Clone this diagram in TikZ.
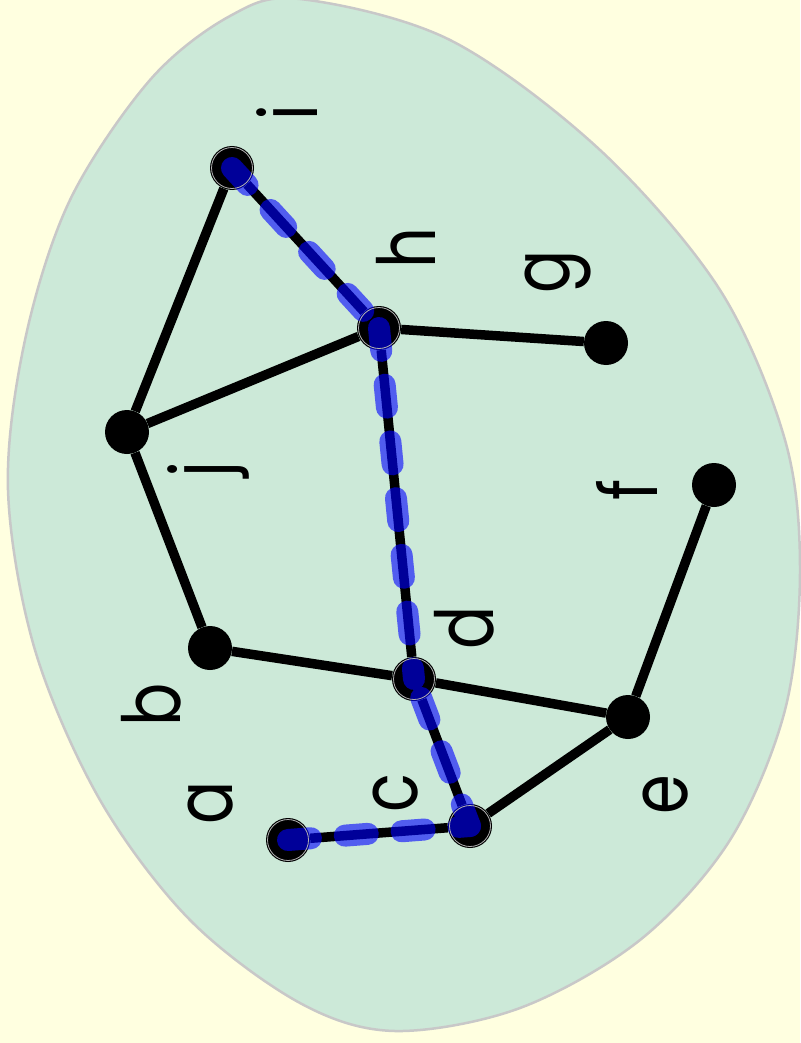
\documentclass[tikz,border=0pt]{standalone}
\usepackage{fontspec}
\setmainfont{Poppins}[FakeStretch=0.8]
\begin{document}
\begin{tikzpicture}[x=1pt,y=-1pt,
  vtx/.style={circle,fill=black,minimum size=44pt,inner sep=0pt},
  edge/.style={line width=9.5pt,black},
  hl/.style={line width=22pt,blue,line cap=round,dash pattern=on 23pt off 34pt},
  ring/.style={draw=gray!60,line width=0.8pt},
  lbl/.style={font=\fontsize{80}{80}\selectfont,rotate=90,anchor=base,inner sep=0pt}]
\definecolor{bgyellow}{RGB}{255,255,224}
\definecolor{blobgreen}{RGB}{204,233,216}
\definecolor{blobline}{RGB}{200,200,200}
\useasboundingbox (0,0) rectangle (800,1043);
\fill[bgyellow] (0,0) rectangle (800,1043);
\filldraw[fill=blobgreen,draw=blobline,line width=2.5pt]
  plot[smooth cycle,tension=0.55] coordinates {
  (300,-1) (450,40) (600,150) (720,290) (785,440) (800,570) (785,710)
  (730,840) (640,940) (520,1008) (395,1031) (300,1003) (190,920) (100,800)
  (35,650) (8,490) (25,340) (70,200) (150,80) (230,16)};
% nodes
\node[vtx] (a) at (288,840) {};
\node[vtx] (b) at (210,648) {};
\node[vtx] (c) at (470,826) {};
\node[vtx] (d) at (414,679) {};
\node[vtx] (e) at (628,717) {};
\node[vtx] (f) at (714,485) {};
\node[vtx] (g) at (606,343) {};
\node[vtx] (h) at (379,328) {};
\node[vtx] (i) at (232,168) {};
\node[vtx] (j) at (127,432) {};
% edges
\draw[edge] (i) -- (j);
\draw[edge] (i) -- (h);
\draw[edge] (h) -- (j);
\draw[edge] (h) -- (g);
\draw[edge] (h) -- (d);
\draw[edge] (j) -- (b);
\draw[edge] (b) -- (d);
\draw[edge] (d) -- (e);
\draw[edge] (d) -- (c);
\draw[edge] (c) -- (e);
\draw[edge] (e) -- (f);
\draw[edge] (c) -- (a);
% highlighted path
\begin{scope}[transparency group,opacity=0.6]
\draw[hl] (i.center) -- (h.center);
\draw[hl] (h.center) -- (d.center);
\draw[hl] (c.center) -- (d.center);
\draw[hl] (a.center) -- (c.center);
\end{scope}
\foreach \n in {a,c,d,h,i} \draw[ring] (\n.center) circle (20.5pt);
% labels
\node[lbl] (la) at (232,803) {a};
\node[lbl] (lb) at (180,705) {b};
\node[lbl] (lc) at (417,793) {c};
\node[lbl] (ld) at (493,628) {d};
\node[lbl] (le) at (687,795) {e};
\node[lbl] (lf) at (657,490) {f};
\node[lbl] (lg) at (569,272) {g};
\node[lbl] (lh) at (435,248) {h};
\node[lbl] (li) at (317,113) {i};
\node[lbl] (lj) at (228,470) {j};
\end{tikzpicture}
\end{document}
